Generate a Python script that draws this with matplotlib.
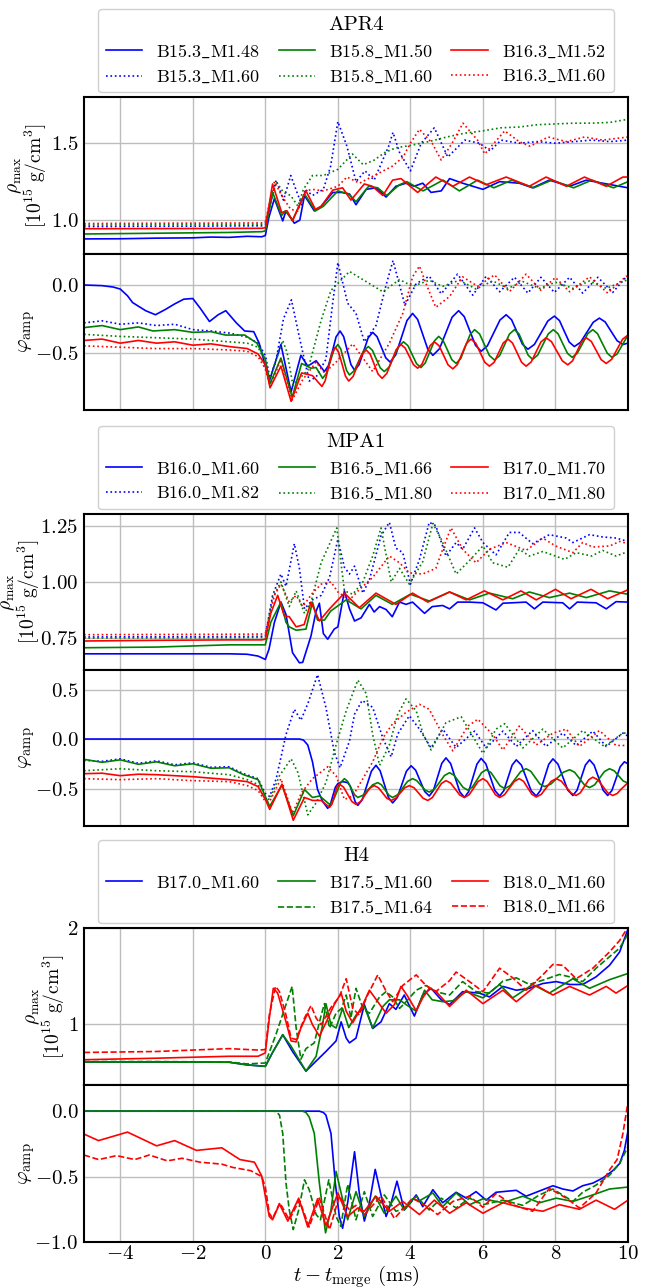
import numpy as np
import matplotlib.pyplot as plt
from matplotlib.lines import Line2D

plt.rcParams['font.family'] = 'serif'
plt.rcParams['font.serif'] = ['cmr10']
plt.rcParams['mathtext.fontset'] = 'cm'
plt.rcParams['axes.formatter.use_mathtext'] = True

# ---------------- data: (t - t_merge [ms], value) ----------------
# APR4, rho_max
apr4_rho_blue = [(-5,0.878),(-4,0.879),(-3,0.883),(-2,0.885),(-1.5,0.89),(-1,0.888),(-0.5,0.895),(-0.1,0.892),(0,0.9),(0.1,1.02),(0.25,1.14),(0.48,0.995),(0.57,1.06),(0.8,0.98),(0.95,1.0),(1.08,1.16),(1.35,1.06),(1.54,1.09),(1.86,1.18),(2.1,1.18),(2.32,1.17),(2.5,1.10),(2.78,1.20),(3.05,1.21),(3.33,1.15),(3.6,1.22),(3.88,1.24),(4.1,1.22),(4.34,1.24),(4.57,1.18),(4.85,1.19),(5.08,1.27),(5.44,1.24),(6.0,1.20),(6.46,1.25),(7.0,1.24),(7.37,1.21),(7.83,1.26),(8.39,1.22),(8.85,1.26),(9.3,1.24),(10,1.21)]
apr4_rho_green = [(-5,0.91),(-3,0.915),(-1,0.92),(-0.1,0.925),(0,0.93),(0.2,1.18),(0.45,1.03),(0.55,1.06),(0.75,1.0),(1.08,1.17),(1.38,1.06),(1.6,1.09),(2.0,1.19),(2.3,1.17),(2.5,1.12),(2.85,1.22),(3.1,1.21),(3.35,1.16),(3.7,1.23),(3.9,1.25),(4.35,1.19),(4.9,1.26),(5.35,1.19),(5.85,1.26),(6.3,1.21),(6.8,1.26),(7.4,1.21),(7.9,1.26),(8.5,1.21),(9.0,1.26),(9.6,1.21),(10,1.25)]
apr4_rho_red = [(-5,0.944),(-3,0.945),(-1,0.946),(-0.1,0.947),(0,0.95),(0.2,1.235),(0.45,1.05),(0.6,1.06),(0.75,0.995),(1.12,1.19),(1.38,1.07),(1.54,1.09),(1.86,1.195),(2.13,1.21),(2.36,1.13),(2.73,1.235),(2.95,1.22),(3.24,1.16),(3.51,1.26),(3.74,1.27),(4.2,1.18),(4.7,1.28),(5.17,1.22),(5.63,1.28),(6.09,1.23),(6.64,1.28),(7.28,1.22),(7.74,1.28),(8.3,1.22),(8.8,1.28),(9.4,1.22),(9.86,1.28),(10,1.28)]
apr4_rho_blue2 = [(-5,0.958),(-3,0.96),(-1,0.962),(-0.1,0.963),(0,0.97),(0.3,1.26),(0.5,1.13),(0.7,1.29),(1.0,1.10),(1.1,1.20),(1.3,1.16),(1.6,1.20),(1.8,1.35),(2.0,1.64),(2.25,1.48),(2.5,1.25),(2.75,1.32),(3.0,1.26),(3.4,1.48),(3.52,1.57),(3.7,1.44),(4.0,1.32),(4.3,1.50),(4.66,1.60),(5.03,1.41),(5.5,1.52),(5.9,1.50),(6.2,1.45),(6.5,1.52),(7.0,1.50),(7.5,1.51),(8.0,1.50),(8.5,1.51),(9.0,1.52),(9.5,1.51),(10,1.52)]
apr4_rho_green2 = [(-5,0.968),(-3,0.97),(-1,0.972),(-0.1,0.973),(0,0.98),(0.3,1.25),(0.5,1.18),(0.7,1.16),(0.9,1.09),(1.05,1.20),(1.3,1.29),(1.6,1.29),(2.0,1.33),(2.4,1.43),(2.7,1.36),(3.0,1.39),(3.3,1.44),(3.6,1.47),(4.0,1.485),(4.5,1.51),(5.0,1.54),(5.5,1.565),(6.0,1.58),(6.5,1.60),(7.0,1.605),(7.5,1.62),(8.0,1.625),(8.5,1.63),(9.0,1.63),(9.5,1.635),(10,1.655)]
apr4_rho_red2 = [(-5,0.978),(-3,0.98),(-1,0.981),(-0.1,0.982),(0,0.99),(0.25,1.25),(0.45,1.16),(0.7,1.07),(0.9,1.06),(1.1,1.19),(1.3,1.20),(1.6,1.19),(2.0,1.22),(2.25,1.28),(2.6,1.24),(3.0,1.29),(3.5,1.35),(3.8,1.41),(4.0,1.50),(4.25,1.59),(4.6,1.50),(4.85,1.39),(5.15,1.50),(5.45,1.63),(5.85,1.52),(6.05,1.43),(6.6,1.58),(7.0,1.51),(7.3,1.48),(7.8,1.54),(8.3,1.51),(8.8,1.54),(9.3,1.52),(10,1.54)]

# APR4, phi_amp
apr4_phi_blue = [(-5,0.0),(-4.5,-0.005),(-4.2,-0.015),(-4,-0.03),(-3.8,-0.08),(-3.66,-0.13),(-3.3,-0.19),(-3.03,-0.22),(-2.75,-0.18),(-2.5,-0.14),(-2.25,-0.105),(-2.0,-0.10),(-1.8,-0.17),(-1.54,-0.27),(-1.3,-0.22),(-1.09,-0.19),(-0.8,-0.28),(-0.57,-0.34),(-0.32,-0.345),(-0.17,-0.43),(0.11,-0.71),(0.43,-0.44),(0.71,-0.79),(0.98,-0.52),(1.17,-0.60),(1.4,-0.56),(1.63,-0.64),
                 (1.74,-0.596),(1.85,-0.49),(1.95,-0.384),(2.06,-0.34),(2.16,-0.382),(2.26,-0.485),(2.36,-0.588),(2.46,-0.63),(2.585,-0.589),(2.71,-0.49),(2.835,-0.391),(2.96,-0.35),(3.08,-0.382),(3.2,-0.46),(3.32,-0.538),(3.44,-0.57),
                 (3.595,-0.517),(3.75,-0.39),(3.905,-0.263),(4.06,-0.21),(4.2,-0.255),(4.34,-0.365),(4.48,-0.475),(4.62,-0.52),(4.8,-0.472),(4.975,-0.355),(5.15,-0.238),(5.33,-0.19),(5.485,-0.234),(5.64,-0.34),(5.795,-0.446),(5.95,-0.49),
                 (6.12,-0.451),(6.295,-0.355),(6.47,-0.259),(6.64,-0.22),(6.79,-0.257),(6.94,-0.348),(7.09,-0.438),(7.24,-0.475),(7.42,-0.439),(7.605,-0.353),(7.79,-0.266),(7.97,-0.23),(8.11,-0.263),(8.245,-0.343),(8.38,-0.422),(8.52,-0.455),
                 (8.69,-0.424),(8.865,-0.35),(9.04,-0.276),(9.21,-0.245),(9.37,-0.273),(9.535,-0.343),(9.7,-0.412),(9.86,-0.44),(10,-0.43)]
apr4_phi_green = [(-5,-0.315),(-4.5,-0.30),(-4,-0.33),(-3.5,-0.31),(-3.1,-0.34),(-2.5,-0.33),(-2,-0.35),(-1.5,-0.345),(-1.1,-0.37),(-0.57,-0.37),(-0.23,-0.43),(0,-0.55),(0.13,-0.73),(0.43,-0.54),(0.74,-0.83),(1.0,-0.58),(1.26,-0.615),(1.4,-0.61),(1.58,-0.69),
                  (1.685,-0.653),(1.79,-0.565),(1.895,-0.477),(2.0,-0.44),(2.08,-0.473),(2.16,-0.553),(2.24,-0.632),(2.32,-0.665),(2.45,-0.634),(2.58,-0.56),(2.71,-0.486),(2.84,-0.455),(2.95,-0.482),(3.06,-0.548),(3.17,-0.613),(3.28,-0.64),
                  (3.41,-0.608),(3.545,-0.53),(3.68,-0.452),(3.81,-0.42),(3.93,-0.448),(4.05,-0.515),(4.17,-0.582),(4.29,-0.61),(4.41,-0.576),(4.535,-0.495),(4.66,-0.414),(4.78,-0.38),(4.9,-0.409),(5.02,-0.48),(5.14,-0.551),(5.26,-0.58),
                  (5.39,-0.543),(5.515,-0.455),(5.645,-0.367),(5.77,-0.33),(5.91,-0.363),(6.045,-0.443),(6.18,-0.522),(6.32,-0.555),(6.46,-0.522),(6.595,-0.443),(6.73,-0.363),(6.87,-0.33),(6.995,-0.362),(7.12,-0.44),(7.245,-0.518),(7.37,-0.55),
                  (7.51,-0.518),(7.655,-0.44),(7.8,-0.362),(7.94,-0.33),(8.07,-0.36),(8.2,-0.433),(8.33,-0.505),(8.46,-0.535),(8.6,-0.505),(8.745,-0.433),(8.89,-0.36),(9.03,-0.33),(9.16,-0.36),(9.295,-0.433),(9.43,-0.505),(9.56,-0.535),
                  (9.7,-0.51),(9.85,-0.44),(10,-0.37)]
apr4_phi_red = [(-5,-0.41),(-4.5,-0.40),(-4,-0.43),(-3.5,-0.41),(-3,-0.43),(-2.5,-0.42),(-2,-0.445),(-1.5,-0.435),(-1,-0.455),(-0.5,-0.47),(-0.2,-0.51),(0,-0.59),(0.13,-0.76),(0.43,-0.60),(0.71,-0.86),(1.0,-0.65),(1.3,-0.67),(1.56,-0.75),
                (1.65,-0.708),(1.745,-0.605),(1.84,-0.502),(1.93,-0.46),(2.02,-0.497),(2.115,-0.585),(2.21,-0.674),(2.3,-0.71),(2.42,-0.676),(2.54,-0.595),(2.66,-0.514),(2.78,-0.48),(2.89,-0.511),(3.0,-0.585),(3.11,-0.659),(3.22,-0.69),
                (3.35,-0.653),(3.48,-0.565),(3.61,-0.477),(3.74,-0.44),(3.855,-0.466),(3.97,-0.528),(4.085,-0.589),(4.2,-0.615),(4.315,-0.587),(4.43,-0.518),(4.545,-0.448),(4.66,-0.42),(4.79,-0.449),(4.915,-0.52),(5.04,-0.591),(5.17,-0.62),
                (5.295,-0.588),(5.42,-0.51),(5.545,-0.432),(5.67,-0.40),(5.8,-0.429),(5.925,-0.50),(6.05,-0.571),(6.18,-0.60),(6.31,-0.571),(6.435,-0.50),(6.56,-0.429),(6.69,-0.40),(6.815,-0.429),(6.94,-0.50),(7.065,-0.571),(7.19,-0.60),
                (7.33,-0.569),(7.465,-0.495),(7.6,-0.421),(7.74,-0.39),(7.89,-0.419),(8.04,-0.49),(8.19,-0.561),(8.34,-0.59),(8.47,-0.561),(8.595,-0.49),(8.72,-0.419),(8.85,-0.39),(8.99,-0.418),(9.125,-0.485),(9.26,-0.552),(9.4,-0.58),
                (9.55,-0.549),(9.7,-0.475),(9.85,-0.401),(10,-0.37)]
apr4_phi_blue2 = [(-5,-0.28),(-4.5,-0.265),(-4,-0.29),(-3.5,-0.28),(-3,-0.30),(-2.5,-0.29),(-2,-0.33),(-1.5,-0.34),(-1,-0.355),(-0.5,-0.385),(-0.2,-0.43),(0,-0.52),(0.13,-0.69),(0.3,-0.55),(0.5,-0.25),(0.72,-0.11),(0.95,-0.40),(1.21,-0.71),(1.4,-0.68),(1.67,-0.55),(1.85,-0.15),(2.0,0.165),(2.27,-0.135),(2.5,-0.21),(2.73,-0.42),(3.05,-0.30),(3.33,0.0),(3.52,0.18),(3.85,-0.15),(4.16,0.01),(4.52,0.065),(4.85,-0.065),(5.3,0.08),(5.72,-0.075),(6.09,0.065),(6.46,-0.05),(6.87,0.057),(7.24,-0.06),(7.6,0.057),(7.97,-0.055),(8.39,0.057),(8.75,-0.06),(9.17,0.057),(9.58,-0.055),(9.95,0.06),(10,0.06)]
apr4_phi_green2 = [(-5,-0.365),(-4,-0.38),(-3,-0.39),(-2,-0.40),(-1,-0.42),(-0.5,-0.43),(-0.2,-0.46),(0,-0.57),(0.12,-0.70),(0.48,-0.41),(0.6,-0.5),(0.76,-0.74),(1.17,-0.63),(1.54,-0.26),(1.81,-0.04),(2.32,0.10),(2.78,0.025),(3.24,-0.05),(3.7,0.04),(4.06,-0.01),(4.52,0.035),(4.89,-0.01),(5.35,0.035),(5.81,-0.03),(6.27,0.03),(6.69,-0.025),(7.1,0.025),(7.56,-0.025),(8.0,0.02),(8.48,-0.025),(8.94,0.03),(9.4,-0.025),(10,0.04)]
apr4_phi_red2 = [(-5,-0.45),(-4,-0.46),(-3,-0.47),(-2,-0.47),(-1,-0.48),(-0.5,-0.49),(-0.2,-0.53),(0,-0.62),(0.13,-0.75),(0.43,-0.55),(0.74,-0.85),(1.03,-0.70),(1.4,-0.57),(1.63,-0.65),(1.95,-0.57),(2.41,-0.435),(2.96,-0.64),(3.42,-0.43),(3.79,-0.21),(4.06,0.06),(4.25,0.14),(4.43,0.01),(4.7,-0.165),(5.08,-0.085),(5.44,0.06),(5.86,-0.01),(6.32,0.075),(6.73,-0.05),(7.19,0.08),(7.6,-0.04),(8.0,0.055),(8.39,-0.05),(8.94,0.06),(9.44,-0.06),(9.95,0.065),(10,0.06)]

# MPA1, rho_max
mpa1_rho_blue = [(-5,0.68),(-3,0.68),(-1,0.68),(-0.5,0.678),(-0.2,0.67),(0,0.655),(0.1,0.70),(0.25,0.82),(0.43,0.91),(0.57,0.855),(0.75,0.685),(0.94,0.64),(1.03,0.642),(1.26,0.76),(1.4,0.87),(1.49,0.905),(1.6,0.77),(1.72,0.745),(1.9,0.79),(2.0,0.80),(2.18,0.96),(2.32,0.88),(2.46,0.826),(2.64,0.84),(2.87,0.90),(3.0,0.866),(3.15,0.89),(3.33,0.877),(3.5,0.845),(3.7,0.91),(3.88,0.90),(4.06,0.91),(4.39,0.86),(4.6,0.89),(4.89,0.895),(5.08,0.88),(5.3,0.91),(5.63,0.91),(6.0,0.907),(6.36,0.875),(6.55,0.905),(7.19,0.91),(7.42,0.88),(7.65,0.91),(8.2,0.907),(8.39,0.88),(8.6,0.91),(9.12,0.907),(9.4,0.88),(9.67,0.912),(10,0.91)]
mpa1_rho_green = [(-5,0.707),(-3,0.71),(-1,0.72),(-0.1,0.72),(0,0.72),(0.15,0.82),(0.43,0.91),(0.57,0.82),(0.66,0.80),(0.85,0.785),(1.12,0.79),(1.3,0.91),(1.44,0.83),(1.63,0.83),(1.8,0.87),(2.23,0.92),(2.64,0.88),(3.05,0.94),(3.5,0.90),(4.0,0.945),(4.52,0.915),(5.08,0.955),(5.63,0.92),(6.18,0.95),(6.82,0.925),(7.28,0.955),(7.83,0.93),(8.39,0.95),(8.85,0.93),(9.49,0.96),(10,0.945)]
mpa1_rho_red = [(-5,0.737),(-3,0.74),(-1,0.742),(-0.1,0.742),(0,0.745),(0.15,0.86),(0.34,0.94),(0.52,0.85),(0.66,0.845),(0.85,0.80),(1.07,0.81),(1.26,0.91),(1.49,0.826),(1.77,0.88),(2.18,0.95),(2.59,0.885),(3.05,0.95),(3.6,0.90),(4.06,0.95),(4.48,0.91),(5.08,0.955),(5.54,0.92),(6.04,0.96),(6.55,0.92),(7.05,0.96),(7.47,0.92),(8.0,0.967),(8.43,0.925),(8.98,0.967),(9.44,0.925),(10,0.965)]
mpa1_rho_blue2 = [(-5,0.755),(-3,0.756),(-1,0.757),(-0.1,0.758),(0,0.76),(0.2,0.94),(0.43,1.035),(0.57,0.98),(0.8,1.17),(0.94,1.06),(1.08,0.88),(1.3,0.92),(1.54,0.94),(1.77,1.02),(2.0,1.19),(2.18,1.065),(2.32,1.035),(2.46,1.07),(2.69,0.95),(2.87,1.01),(3.19,1.205),(3.42,1.265),(3.6,1.15),(3.79,1.13),(4.0,0.99),(4.25,1.10),(4.52,1.265),(4.7,1.25),(4.98,1.115),(5.26,1.175),(5.44,1.145),(5.77,1.24),(6.0,1.175),(6.36,1.12),(6.73,1.22),(7.0,1.22),(7.37,1.17),(7.83,1.21),(8.3,1.195),(8.48,1.175),(8.94,1.21),(9.3,1.20),(9.67,1.195),(10,1.18)]
mpa1_rho_green2 = [(-5,0.75),(-3,0.751),(-1,0.752),(-0.1,0.753),(0,0.755),(0.2,0.93),(0.43,1.0),(0.66,0.89),(0.85,0.96),(1.08,0.86),(1.26,0.91),(1.54,1.086),(1.97,1.24),(2.18,0.96),(2.41,0.945),(2.69,1.0),(2.96,1.115),(3.19,1.24),(3.47,1.0),(3.7,1.06),(3.97,0.99),(4.34,1.09),(4.62,1.26),(4.85,1.19),(5.26,1.035),(5.63,1.095),(6.0,1.16),(6.27,1.085),(6.69,1.065),(7.0,1.145),(7.28,1.115),(7.65,1.135),(7.83,1.125),(8.25,1.10),(8.57,1.13),(9.0,1.115),(9.3,1.14),(9.67,1.115),(10,1.135)]
mpa1_rho_red2 = [(-5,0.765),(-3,0.766),(-1,0.767),(-0.1,0.768),(0,0.77),(0.25,0.94),(0.43,0.99),(0.66,0.91),(0.85,0.94),(1.03,0.89),(1.3,0.95),(1.54,0.99),(1.81,1.0),(2.0,0.955),(2.32,0.92),(2.59,0.965),(2.96,1.02),(3.42,1.115),(3.7,1.085),(3.97,1.04),(4.34,1.035),(4.7,1.06),(4.89,1.145),(5.12,1.24),(5.44,1.145),(5.81,1.085),(6.18,1.145),(6.64,1.175),(7.19,1.14),(7.65,1.195),(8.0,1.16),(8.48,1.13),(8.75,1.175),(9.03,1.155),(9.5,1.16),(9.77,1.18),(10,1.17)]

# MPA1, phi_amp
mpa1_phi_blue = [(-5,0.0),(-2,0.0),(0,0.0),(0.94,0.0),(1.05,-0.01),(1.17,-0.06),(1.3,-0.23),(1.44,-0.51),(1.58,-0.63),(1.72,-0.70),(1.79,-0.663),(1.86,-0.575),(1.93,-0.487),(2.0,-0.45),(2.13,-0.43),(2.27,-0.44),(2.34,-0.474),(2.41,-0.555),(2.48,-0.636),(2.55,-0.67),
                 (2.675,-0.611),(2.8,-0.468),(2.925,-0.324),(3.05,-0.265),(3.165,-0.32),(3.28,-0.455),(3.395,-0.59),(3.51,-0.645),(3.64,-0.59),(3.765,-0.458),(3.89,-0.325),(4.02,-0.27),(4.145,-0.315),(4.27,-0.423),(4.395,-0.53),(4.52,-0.575),
                 (4.635,-0.519),(4.75,-0.383),(4.865,-0.246),(4.98,-0.19),(5.11,-0.248),(5.235,-0.39),(5.36,-0.532),(5.49,-0.59),(5.605,-0.532),(5.72,-0.393),(5.835,-0.253),(5.95,-0.195),(6.08,-0.25),(6.205,-0.385),(6.33,-0.52),(6.46,-0.575),
                 (6.575,-0.522),(6.69,-0.393),(6.805,-0.263),(6.92,-0.21),(7.06,-0.263),(7.195,-0.393),(7.33,-0.522),(7.47,-0.575),(7.585,-0.52),(7.7,-0.388),(7.815,-0.255),(7.93,-0.20),(8.07,-0.254),(8.205,-0.385),(8.34,-0.516),(8.48,-0.57),
                 (8.595,-0.517),(8.71,-0.39),(8.825,-0.263),(8.94,-0.21),(9.065,-0.263),(9.19,-0.39),(9.315,-0.517),(9.44,-0.57),(9.555,-0.52),(9.67,-0.40),(9.785,-0.28),(9.9,-0.23),(10,-0.25)]
mpa1_phi_green = [(-5,-0.205),(-4.5,-0.235),(-4,-0.21),(-3.5,-0.255),(-3,-0.23),(-2.5,-0.27),(-2,-0.25),(-1.5,-0.295),(-1,-0.29),(-0.6,-0.36),(-0.2,-0.41),(0,-0.58),(0.12,-0.68),(0.46,-0.465),(0.77,-0.775),(1.08,-0.51),(1.3,-0.59),(1.5,-0.575),(1.77,-0.66),
                  (1.87,-0.622),(1.975,-0.53),(2.08,-0.438),(2.18,-0.40),(2.27,-0.428),(2.365,-0.495),(2.46,-0.562),(2.55,-0.59),(2.69,-0.568),(2.825,-0.515),(2.96,-0.462),(3.1,-0.44),(3.2,-0.462),(3.305,-0.515),(3.41,-0.568),(3.51,-0.59),
                  (3.65,-0.562),(3.785,-0.495),(3.92,-0.428),(4.06,-0.40),(4.175,-0.42),(4.29,-0.468),(4.405,-0.515),(4.52,-0.535),(4.66,-0.507),(4.8,-0.438),(4.94,-0.368),(5.08,-0.34),(5.205,-0.366),(5.33,-0.428),(5.455,-0.489),(5.58,-0.515),
                  (5.71,-0.485),(5.835,-0.413),(5.96,-0.34),(6.09,-0.31),(6.22,-0.338),(6.345,-0.405),(6.47,-0.472),(6.6,-0.50),(6.75,-0.471),(6.895,-0.40),(7.04,-0.329),(7.19,-0.30),(7.32,-0.326),(7.445,-0.39),(7.57,-0.454),(7.7,-0.48),
                  (7.87,-0.455),(8.045,-0.395),(8.22,-0.335),(8.39,-0.31),(8.53,-0.336),(8.665,-0.40),(8.8,-0.464),(8.94,-0.49),(9.08,-0.462),(9.215,-0.395),(9.35,-0.328),(9.49,-0.30),(9.62,-0.321),(9.745,-0.373),(9.87,-0.424),(10,-0.445)]
mpa1_phi_red = [(-5,-0.35),(-4.5,-0.345),(-4,-0.37),(-3.5,-0.355),(-3,-0.36),(-2,-0.38),(-1,-0.41),(-0.5,-0.43),(-0.2,-0.48),(0,-0.61),(0.12,-0.71),(0.46,-0.455),(0.77,-0.82),(1.08,-0.59),(1.3,-0.62),(1.54,-0.62),(1.77,-0.69),
                (1.84,-0.656),(1.905,-0.573),(1.97,-0.489),(2.04,-0.455),(2.155,-0.485),(2.27,-0.558),(2.385,-0.63),(2.5,-0.66),(2.625,-0.632),(2.75,-0.565),(2.875,-0.498),(3.0,-0.47),(3.12,-0.492),(3.235,-0.545),(3.35,-0.598),(3.47,-0.62),
                (3.595,-0.598),(3.72,-0.545),(3.845,-0.492),(3.97,-0.47),(4.1,-0.492),(4.225,-0.545),(4.35,-0.598),(4.48,-0.62),(4.605,-0.591),(4.73,-0.52),(4.855,-0.449),(4.98,-0.42),(5.11,-0.445),(5.235,-0.505),(5.36,-0.565),(5.49,-0.59),
                (5.62,-0.562),(5.745,-0.495),(5.87,-0.428),(6.0,-0.40),(6.115,-0.428),(6.23,-0.495),(6.345,-0.562),(6.46,-0.59),(6.595,-0.562),(6.73,-0.495),(6.865,-0.428),(7.0,-0.40),(7.12,-0.427),(7.235,-0.493),(7.35,-0.558),(7.47,-0.585),
                (7.61,-0.558),(7.745,-0.493),(7.88,-0.427),(8.02,-0.40),(8.16,-0.425),(8.295,-0.485),(8.43,-0.545),(8.57,-0.57),(8.685,-0.543),(8.8,-0.478),(8.915,-0.412),(9.03,-0.385),(9.17,-0.412),(9.305,-0.478),(9.44,-0.543),(9.58,-0.57),
                (9.7,-0.55),(9.8,-0.51),(9.9,-0.475),(10,-0.44)]
mpa1_phi_blue2 = [(-5,-0.215),(-4.5,-0.225),(-4,-0.20),(-3.5,-0.245),(-3,-0.22),(-2.5,-0.26),(-2,-0.24),(-1.5,-0.285),(-1,-0.28),(-0.6,-0.35),(-0.2,-0.40),(0,-0.55),(0.12,-0.58),(0.3,-0.40),(0.57,0.045),(0.8,0.30),(0.98,0.19),(1.17,0.355),(1.44,0.65),(1.67,0.32),(1.9,-0.13),(2.06,-0.29),(2.32,-0.02),(2.46,0.25),(2.67,0.39),(2.96,0.32),(3.24,0.01),(3.47,-0.18),(3.65,0.05),(3.97,0.235),(4.25,0.10),(4.57,-0.09),(4.89,0.10),(5.26,-0.085),(5.77,0.08),(6.09,-0.09),(6.55,0.08),(6.92,-0.075),(7.37,0.085),(7.74,-0.075),(8.2,0.06),(8.57,-0.065),(9.03,0.08),(9.4,-0.075),(9.86,0.06),(10,0.03)]
mpa1_phi_green2 = [(-5,-0.32),(-4,-0.30),(-3,-0.32),(-2,-0.33),(-1,-0.36),(-0.5,-0.41),(-0.2,-0.46),(0,-0.60),(0.12,-0.61),(0.39,-0.37),(0.71,-0.20),(0.9,-0.34),(1.17,-0.765),(1.4,-0.645),(1.67,-0.44),(1.95,-0.06),(2.23,0.285),(2.55,0.595),(2.78,0.46),(2.96,0.045),(3.15,-0.265),(3.42,-0.06),(3.65,0.25),(3.88,0.405),(4.16,0.285),(4.35,0.05),(4.57,-0.11),(4.98,0.165),(5.4,0.225),(5.7,0.04),(6.0,-0.145),(6.36,0.10),(6.6,0.155),(7.1,-0.09),(7.65,0.10),(8.2,-0.09),(8.75,0.085),(9.35,-0.075),(9.86,0.06),(10,0.06)]
mpa1_phi_red2 = [(-5,-0.40),(-4,-0.41),(-3,-0.40),(-2,-0.42),(-1,-0.43),(-0.5,-0.47),(-0.2,-0.52),(0,-0.63),(0.12,-0.63),(0.43,-0.40),(0.75,-0.75),(1.0,-0.54),(1.3,-0.40),(1.72,-0.28),(1.95,-0.37),(2.18,-0.61),(2.41,-0.575),(2.69,-0.40),(2.96,-0.23),(3.24,0.01),(3.51,0.155),(3.88,0.27),(4.25,0.35),(4.52,0.30),(4.89,0.045),(5.17,-0.12),(5.58,0.13),(5.86,0.20),(6.27,0.045),(6.55,-0.11),(7.0,0.13),(7.47,-0.06),(7.93,0.06),(8.3,0.10),(8.66,-0.075),(9.21,0.085),(9.67,-0.065),(10,-0.065)]

# H4, rho_max
h4_rho_blue = [(-5,0.60),(-3,0.60),(-1,0.598),(-0.5,0.57),(0,0.555),(0.2,0.70),(0.48,0.885),(0.75,0.71),(1.12,0.505),(1.4,0.61),(1.67,0.71),(1.95,0.82),(2.09,1.02),(2.23,0.85),(2.32,0.80),(2.5,0.85),(2.73,1.20),(2.96,0.95),(3.19,1.02),(3.42,1.21),(3.6,1.15),(3.83,1.30),(4.11,1.08),(4.34,1.30),(4.57,1.37),(4.85,1.25),(5.08,1.20),(5.44,1.335),(5.9,1.32),(6.18,1.28),(6.55,1.39),(6.92,1.35),(7.28,1.37),(7.65,1.42),(8.02,1.44),(8.39,1.41),(8.75,1.41),(9.12,1.49),(9.49,1.61),(9.77,1.75),(10,1.99)]
h4_rho_green = [(-5,0.60),(-3,0.60),(-1,0.598),(-0.5,0.57),(0,0.555),(0.2,0.70),(0.48,0.885),(0.71,0.765),(1.12,0.505),(1.4,0.66),(1.58,0.99),(1.67,1.21),(1.81,0.99),(1.95,0.955),(2.13,1.16),(2.3,0.96),(2.5,1.09),(2.73,1.18),(2.96,0.955),(3.24,1.18),(3.42,1.25),(3.7,1.25),(3.88,1.20),(4.16,1.13),(4.39,1.35),(4.6,1.25),(4.9,1.23),(5.17,1.24),(5.54,1.335),(6.0,1.27),(6.46,1.41),(6.82,1.27),(7.37,1.41),(7.83,1.32),(8.48,1.47),(8.94,1.37),(9.49,1.46),(10,1.525)]
h4_rho_green2 = [(-5,0.605),(-3,0.605),(-1,0.60),(-0.5,0.58),(0,0.59),(0.29,0.885),(0.57,1.20),(0.74,1.39),(0.85,0.955),(0.98,0.63),(1.12,0.74),(1.35,0.80),(1.54,1.09),(1.63,1.21),(1.77,0.955),(1.95,1.11),(2.1,1.16),(2.23,1.30),(2.36,1.06),(2.5,1.37),(2.69,1.16),(2.87,1.11),(3.15,1.28),(3.33,1.335),(3.51,1.28),(3.7,1.16),(3.88,1.23),(4.16,1.35),(4.43,1.40),(4.7,1.335),(5.08,1.30),(5.44,1.44),(5.81,1.335),(6.18,1.32),(6.55,1.445),(6.92,1.48),(7.28,1.41),(7.65,1.455),(8.11,1.515),(8.39,1.49),(8.75,1.44),(9.12,1.58),(9.49,1.70),(9.77,1.79),(10,1.94)]
h4_rho_red = [(-5,0.624),(-3,0.64),(-1,0.66),(-0.2,0.66),(0,0.695),(0.11,1.06),(0.22,1.37),(0.34,1.32),(0.57,1.02),(0.71,0.82),(0.85,0.81),(0.98,0.955),(1.17,1.11),(1.3,0.99),(1.49,0.87),(1.67,1.01),(1.9,1.20),(2.09,1.32),(2.23,1.13),(2.41,1.01),(2.69,1.20),(2.87,1.35),(3.1,1.23),(3.33,1.11),(3.56,1.20),(3.74,1.39),(3.92,1.29),(4.16,1.135),(4.34,1.27),(4.52,1.37),(4.7,1.34),(5.08,1.18),(5.54,1.35),(6.0,1.21),(6.55,1.35),(6.92,1.23),(7.47,1.40),(7.93,1.30),(8.39,1.39),(8.94,1.30),(9.4,1.39),(9.67,1.32),(10,1.40)]
h4_rho_red2 = [(-5,0.70),(-3,0.71),(-1,0.74),(-0.2,0.725),(0,0.73),(0.11,1.09),(0.28,1.39),(0.39,1.335),(0.57,1.09),(0.71,0.85),(0.85,0.835),(1.08,1.06),(1.26,1.19),(1.4,1.06),(1.54,0.99),(1.81,1.17),(2.04,1.28),(2.23,1.47),(2.41,1.16),(2.59,1.09),(2.82,1.30),(3.1,1.51),(3.33,1.34),(3.51,1.23),(3.79,1.40),(4.16,1.51),(4.43,1.40),(4.7,1.335),(5.08,1.45),(5.26,1.54),(5.63,1.44),(6.0,1.335),(6.46,1.58),(6.82,1.48),(7.19,1.35),(7.65,1.51),(7.93,1.62),(8.2,1.61),(8.57,1.47),(9.03,1.58),(9.49,1.75),(9.77,1.87),(10,2.01)]

# H4, phi_amp
h4_phi_blue = [(-5,0.0),(0,0.0),(1.49,0.0),(1.6,-0.01),(1.67,-0.03),(1.81,-0.17),(1.93,-0.55),(2.04,-0.805),(2.13,-0.895),(2.27,-0.70),(2.46,-0.31),(2.59,-0.625),(2.73,-0.84),(2.87,-0.70),(3.03,-0.445),(3.18,-0.63),(3.33,-0.805),(3.47,-0.70),(3.63,-0.535),(3.83,-0.755),(4.0,-0.70),(4.16,-0.64),(4.34,-0.73),(4.62,-0.60),(4.89,-0.70),(5.26,-0.62),(5.54,-0.665),(5.81,-0.615),(6.09,-0.68),(6.36,-0.62),(6.92,-0.605),(7.19,-0.65),(7.56,-0.61),(7.93,-0.57),(8.2,-0.595),(8.48,-0.61),(8.75,-0.57),(9.03,-0.55),(9.31,-0.51),(9.58,-0.455),(9.77,-0.40),(9.9,-0.30),(10,-0.15)]
h4_phi_green = [(-5,0.0),(0,0.0),(1.03,0.0),(1.12,-0.01),(1.21,-0.045),(1.35,-0.17),(1.49,-0.55),(1.66,-0.93),(1.81,-0.755),(1.95,-0.46),(2.11,-0.65),(2.27,-0.83),(2.5,-0.615),(2.73,-0.805),(3.03,-0.65),(3.28,-0.78),(3.6,-0.65),(3.83,-0.755),(4.06,-0.67),(4.25,-0.685),(4.62,-0.625),(4.89,-0.73),(5.26,-0.625),(5.63,-0.715),(6.0,-0.67),(6.55,-0.70),(7.1,-0.65),(7.56,-0.70),(8.02,-0.665),(8.48,-0.69),(9.03,-0.64),(9.49,-0.595),(10,-0.58)]
h4_phi_green2 = [(-5,0.0),(0,0.0),(0.25,0.0),(0.32,-0.01),(0.39,-0.03),(0.48,-0.17),(0.57,-0.55),(0.66,-0.755),(0.77,-0.905),(0.92,-0.755),(1.08,-0.525),(1.21,-0.60),(1.4,-0.79),(1.52,-0.83),(1.75,-0.525),(1.95,-0.805),(2.08,-0.88),(2.27,-0.56),(2.5,-0.83),(2.73,-0.615),(2.96,-0.805),(3.28,-0.64),(3.6,-0.765),(3.88,-0.74),(4.16,-0.65),(4.52,-0.755),(4.85,-0.665),(5.26,-0.74),(5.63,-0.665),(6.0,-0.715),(6.55,-0.68),(7.1,-0.72),(7.56,-0.64),(7.93,-0.595),(8.48,-0.69),(8.75,-0.62),(9.12,-0.565),(9.49,-0.49),(9.77,-0.40),(10,-0.27)]
h4_phi_red = [(-5,-0.175),(-4.6,-0.225),(-3.8,-0.16),(-3.0,-0.265),(-2.5,-0.225),(-1.9,-0.30),(-1.2,-0.28),(-0.7,-0.37),(-0.3,-0.39),(-0.1,-0.495),(0,-0.65),(0.11,-0.805),(0.2,-0.83),(0.39,-0.71),(0.62,-0.84),(0.92,-0.665),(1.17,-0.885),(1.44,-0.67),(1.67,-0.875),(2.0,-0.625),(2.27,-0.805),(2.55,-0.74),(2.73,-0.765),(3.05,-0.65),(3.42,-0.765),(3.79,-0.69),(4.25,-0.79),(4.66,-0.68),(5.08,-0.78),(5.54,-0.70),(6.0,-0.78),(6.55,-0.70),(7.1,-0.74),(7.65,-0.765),(8.11,-0.715),(8.66,-0.75),(9.12,-0.68),(9.63,-0.75),(10,-0.68)]
h4_phi_red2 = [(-5,-0.335),(-4.6,-0.37),(-4.1,-0.34),(-3.6,-0.37),(-3.2,-0.335),(-2.7,-0.38),(-2.3,-0.36),(-1.8,-0.39),(-1.2,-0.405),(-0.9,-0.43),(-0.4,-0.455),(-0.1,-0.50),(0,-0.58),(0.11,-0.78),(0.2,-0.82),(0.4,-0.70),(0.66,-0.83),(0.94,-0.68),(1.21,-0.885),(1.49,-0.665),(1.77,-0.905),(2.04,-0.65),(2.32,-0.755),(2.5,-0.72),(2.73,-0.79),(3.19,-0.65),(3.56,-0.82),(4.06,-0.665),(4.52,-0.74),(4.75,-0.79),(5.17,-0.69),(5.63,-0.65),(6.0,-0.735),(6.36,-0.63),(6.82,-0.715),(7.37,-0.765),(7.83,-0.59),(8.3,-0.665),(8.66,-0.74),(9.12,-0.625),(9.49,-0.45),(9.7,-0.37),(9.86,-0.17),(10,0.07)]

# labels, one list per EOS (solid run first, then second run, per colour)
apr4_labels = ['B15.3_M1.48', 'B15.3_M1.60', 'B15.8_M1.50', 'B15.8_M1.60', 'B16.3_M1.52', 'B16.3_M1.60']
mpa1_labels = ['B16.0_M1.60', 'B16.0_M1.82', 'B16.5_M1.66', 'B16.5_M1.80', 'B17.0_M1.70', 'B17.0_M1.80']
h4_labels = ['B17.0_M1.60', None, 'B17.5_M1.60', 'B17.5_M1.64', 'B18.0_M1.60', 'B18.0_M1.66']

apr4_rho = [apr4_rho_blue, apr4_rho_blue2, apr4_rho_green, apr4_rho_green2, apr4_rho_red, apr4_rho_red2]
apr4_phi = [apr4_phi_blue, apr4_phi_blue2, apr4_phi_green, apr4_phi_green2, apr4_phi_red, apr4_phi_red2]
mpa1_rho = [mpa1_rho_blue, mpa1_rho_blue2, mpa1_rho_green, mpa1_rho_green2, mpa1_rho_red, mpa1_rho_red2]
mpa1_phi = [mpa1_phi_blue, mpa1_phi_blue2, mpa1_phi_green, mpa1_phi_green2, mpa1_phi_red, mpa1_phi_red2]
h4_rho = [h4_rho_blue, None, h4_rho_green, h4_rho_green2, h4_rho_red, h4_rho_red2]
h4_phi = [h4_phi_blue, None, h4_phi_green, h4_phi_green2, h4_phi_red, h4_phi_red2]

colors = ['blue', 'blue', 'green', 'green', 'red', 'red']


def tex(s):
    return r'$\mathrm{' + s.replace('_', r'\_') + '}$'


def draw_curves(ax, curves, second_ls):
    for i, c in enumerate(curves):
        if c is None:
            continue
        d = np.array(c)
        ls = '-' if i % 2 == 0 else second_ls
        ax.plot(d[:, 0], d[:, 1], color=colors[i], ls=ls, lw=1.2, solid_joinstyle='round')


def style(ax, ylim, yticks, last=False):
    ax.set_xlim(-5, 10)
    ax.set_ylim(*ylim)
    ax.set_xticks([-4, -2, 0, 2, 4, 6, 8, 10])
    ax.set_yticks(yticks)
    ax.grid(True, color='#bdbdbd', lw=1.0)
    ax.set_axisbelow(True)
    ax.tick_params(length=0, labelsize=15, pad=4)
    ax.tick_params(axis='x', pad=2)
    for s in ax.spines.values():
        s.set_color('black')
        s.set_linewidth(1.5)
    if not last:
        ax.tick_params(labelbottom=False)


fig = plt.figure(figsize=(6.51, 12.88), dpi=100)
L, W = 84 / 651, 544 / 651
H = 1288.0

groups = [
    ('APR4', apr4_labels, apr4_rho, apr4_phi, ':', 97, 254, 410,
     (0.78, 1.80), [1.0, 1.5], (-0.924, 0.229), [-0.5, 0.0], -0.064),
    ('MPA1', mpa1_labels, mpa1_rho, mpa1_phi, ':', 514, 670, 826,
     (0.608, 1.302), [0.75, 1.0, 1.25], (-0.878, 0.697), [-0.5, 0.0, 0.5], -0.077),
    ('H4', h4_labels, h4_rho, h4_phi, '--', 928, 1085, 1242,
     (0.36, 2.0), [1, 2], (-1.0, 0.2), [-1.0, -0.5, 0.0], -0.031),
]

for k, (name, labels, rho, phi, ls2, top, mid, bot, ylr, ytr, ylp, ytp, labx) in enumerate(groups):
    ax1 = fig.add_axes([L, 1 - mid / H, W, (mid - top) / H])
    ax2 = fig.add_axes([L, 1 - bot / H, W, (bot - mid) / H])
    draw_curves(ax1, rho, ls2)
    draw_curves(ax2, phi, ls2)
    style(ax1, ylr, ytr)
    style(ax2, ylp, ytp, last=(k == 2))
    ax1.set_ylabel(r'$\rho_{\rm max}$' + '\n' + r'$[10^{15}\ {\rm g/cm^3}]$', fontsize=14, linespacing=0.95)
    ax1.yaxis.set_label_coords(labx, 0.5)
    ax2.set_ylabel(r'$\varphi_{\rm amp}$', fontsize=15)
    ax2.yaxis.set_label_coords(-0.086, 0.5)
    if k == 2:
        ax1.set_yticklabels(['1', '2'])

    handles, texts = [], []
    for i, lab in enumerate(labels):
        if lab is None:
            handles.append(Line2D([], [], color='none'))
            texts.append(' ')
        else:
            ls = '-' if i % 2 == 0 else ls2
            handles.append(Line2D([], [], color=colors[i], ls=ls, lw=1.2))
            texts.append(tex(lab))
    ax1.legend(handles, texts, ncol=3, loc='lower center', bbox_to_anchor=(0.5, 1.03),
               borderaxespad=0, title=name, title_fontsize=15, fontsize=13,
               frameon=True, fancybox=True, edgecolor='#d0d0d0', framealpha=1.0,
               columnspacing=1.0, handlelength=2.0, labelspacing=0.45)

    if k == 2:
        ax2.set_xlabel(r'$t - t_{\rm merge}$ (ms)', fontsize=15, labelpad=0)

fig.savefig('out.png', dpi=100)
